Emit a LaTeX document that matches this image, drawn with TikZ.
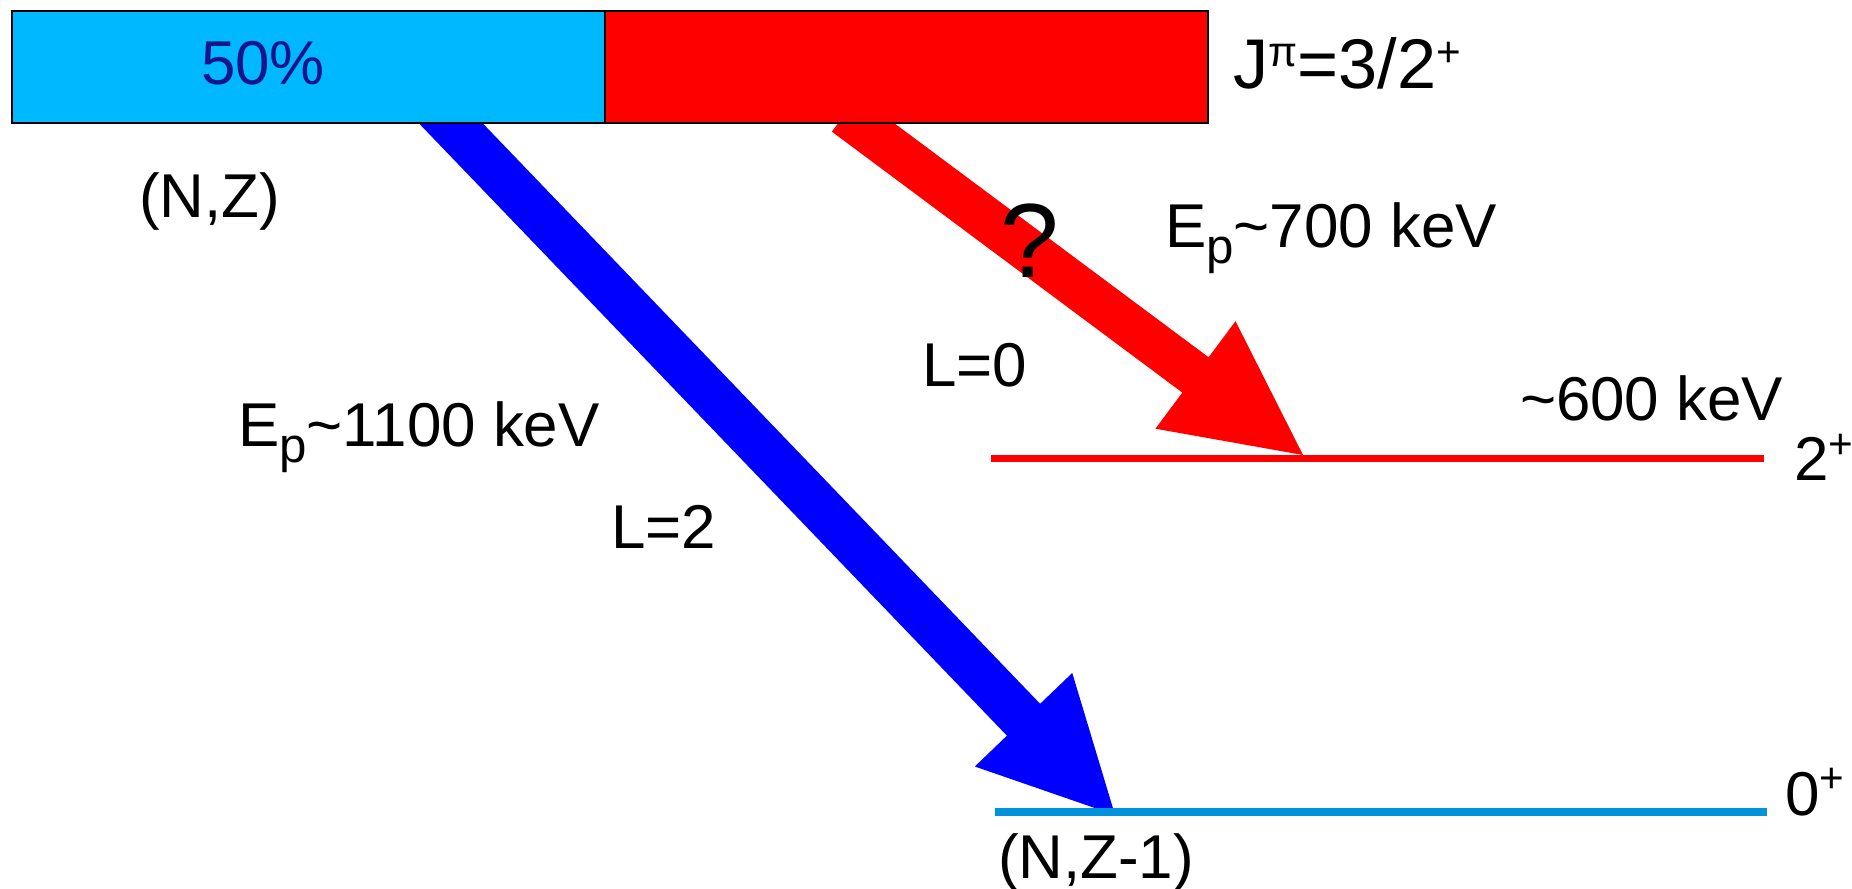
\documentclass[tikz,border=0pt]{standalone}
\usepackage{fontspec}
\setmainfont{Liberation Sans}
\usetikzlibrary{calc}

\definecolor{parentsky}{RGB}{0,184,255}
\definecolor{branchnavy}{RGB}{20,20,140}
\definecolor{groundblue}{RGB}{0,146,218}

\newcommand{\up}[1]{\raisebox{6.5pt}{\fontsize{12pt}{12pt}\selectfont #1}}
\newcommand{\dn}[1]{\raisebox{-4.5pt}{\fontsize{14pt}{14pt}\selectfont #1}}
% colour, source, tip, half shaft, half head, head length
\newcommand{\blockarrow}[6]{%
  \coordinate (#2-base) at ($(#3)!#6!(#2)$);
  \fill[#1] ($(#2)!#4!90:(#3)$) -- ($(#2-base)!#4!90:(#3)$) -- ($(#2-base)!#5!90:(#3)$)
    -- (#3) -- ($(#2-base)!#5!-90:(#3)$) -- ($(#2-base)!#4!-90:(#3)$)
    -- ($(#2)!#4!-90:(#3)$) -- cycle;}

\begin{document}
\begin{tikzpicture}[x=0.01cm,y=-0.01cm,
  statebox/.style={draw=black,line width=0.6pt,inner sep=0pt,outer sep=0pt,
    anchor=north west,minimum height=1.12cm},
  statelevel/.style={line width=0.07cm},
  tag/.style={inner sep=0pt,outer sep=0pt,anchor=base west,
    font=\fontsize{17.6pt}{21pt}\selectfont}
]
  \useasboundingbox (0,0) rectangle (1852,889);

  % proton branches
  \coordinate (gs-src) at (390,60);
  \coordinate (gs-hit) at (1115,815);
  \coordinate (ex-src) at (845,114);
  \coordinate (ex-hit) at (1303,455);
  \blockarrow{blue}{gs-src}{gs-hit}{0.23cm}{0.675cm}{1.32cm}
  \blockarrow{red}{ex-src}{ex-hit}{0.22cm}{0.67cm}{1.34cm}

  % parent state
  \node[statebox,fill=parentsky,minimum width=5.93cm] (parentA) at (12,11) {};
  \node[statebox,fill=red,minimum width=6.03cm] (parentB) at (605,11) {};

  % daughter levels
  \coordinate (ex-l) at (991,459);
  \coordinate (ex-r) at (1764,459);
  \coordinate (gs-l) at (995,812);
  \coordinate (gs-r) at (1767,812);
  \draw[statelevel,red] (ex-l) -- (ex-r);
  \draw[statelevel,groundblue] (gs-l) -- (gs-r);

  \node[tag,text=branchnavy] (pct) at (201,85) {50\%};
  \node[tag,font=\fontsize{20pt}{24pt}\selectfont] (jpi) at (1233,89) {J\up{π}=3/2\up{+}};
  \node[tag] (nz) at (139,218) {(N,Z)};
  \node[tag] (ep1) at (238,447) {E\dn{p}\textasciitilde1100 keV};
  \node[tag] (l2) at (611,549) {L=2};
  \node[tag,anchor=base,font=\fontsize{30pt}{36pt}\selectfont] (qm) at (1030,278) {?};
  \node[tag] (ep2) at (1165,248) {E\dn{p}\textasciitilde700 keV};
  \node[tag] (l0) at (922,387) {L=0};
  \node[tag] (e600) at (1520,421) {\textasciitilde600 keV};
  \node[tag] (sp2) at (1794,481) {2\up{+}};
  \node[tag] (sp0) at (1785,815) {0\up{+}};
  \node[tag] (nz1) at (998,878) {(N,Z-1)};
\end{tikzpicture}
\end{document}
